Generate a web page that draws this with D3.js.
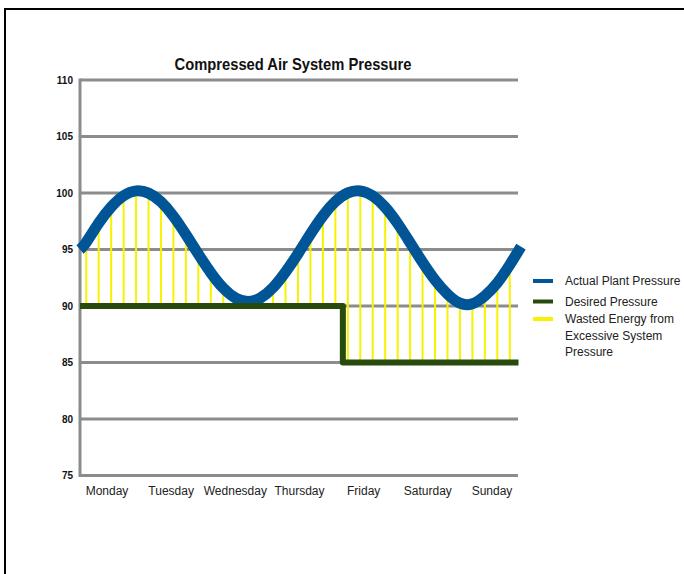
<!DOCTYPE html>
<html>
<head>
<meta charset="utf-8">
<script src="https://cdn.jsdelivr.net/npm/d3@7/dist/d3.min.js"></script>
<style>
  html, body { margin: 0; padding: 0; background: #fff; }
  svg { display: block; }
  text { font-family: "Liberation Sans", Arial, sans-serif; }
</style>
</head>
<body>
<svg id="chart" width="684" height="574"></svg>
<script>
// ---------- data ----------
const title = "Compressed Air System Pressure";
const days = ["Monday", "Tuesday", "Wednesday", "Thursday", "Friday", "Saturday", "Sunday"];
const yTicks = [75, 80, 85, 90, 95, 100, 105, 110];

// sample times (in sample units across the week) and actual plant pressure (psi)
const sampleT = [0, 0.5, 1.5, 2.5, 3.5, 4.5, 5.5, 6.5, 7.5, 8.5, 9.5, 10.5, 11.5, 12.5, 13.5, 14.5,
  15.5, 16.5, 17.5, 18.5, 19.5, 20.5, 21.5, 22.5, 23.5, 24.5, 25.5, 26.5, 27.5, 28.5, 29.5,
  30.5, 31.5, 32.5, 33.5, 34.5, 35.4];
const actualPressure = [95.0, 95.64, 97.33, 98.76, 99.76, 100.19, 99.99, 99.22, 97.95, 96.33, 94.59,
  92.95, 91.59, 90.70, 90.40, 90.72, 91.63, 93.01, 94.63, 96.37, 97.98, 99.24, 100.01, 100.18,
  99.74, 98.74, 97.30, 95.60, 93.87, 92.30, 91.05, 90.25, 90.20, 90.90, 92.05, 93.64, 95.25];

// desired pressure setpoint steps (time, psi)
const desiredT = [0, 21.1, 35.2];
const desiredPressure = [90, 85, 85];

// ---------- layout ----------
const svg = d3.select("#chart");
const x = d3.scaleLinear().domain([0, 35]).range([80, 516]);
const y = d3.scaleLinear().domain([75, 110]).range([475.5, 80]);
const xDays = d3.scalePoint().domain(days).range([107, 492]);

const gridColor = "#8c8c8c";
const blue = "#005596";
const green = "#284a0c";
const yellow = "#f7f200";

// frame
svg.append("rect").attr("x", 5).attr("y", 9).attr("width", 720).attr("height", 620)
  .attr("fill", "none").attr("stroke", "#000").attr("stroke-width", 2);

// title
svg.append("text").attr("x", 293).attr("y", 70).attr("text-anchor", "middle")
  .attr("font-size", 16.5).attr("font-weight", "bold").attr("fill", "#111")
  .attr("textLength", 237).attr("lengthAdjust", "spacingAndGlyphs")
  .text(title);

// gridlines
const xEnd = x.range()[1] + 2;
svg.append("g").selectAll("line").data(yTicks).join("line")
  .attr("x1", x(0)).attr("x2", xEnd)
  .attr("y1", d => y(d)).attr("y2", d => y(d))
  .attr("stroke", gridColor).attr("stroke-width", 3);

// y axis line
svg.append("line").attr("x1", x(0)).attr("x2", x(0))
  .attr("y1", y(110) - 1.5).attr("y2", y(75) + 1.5)
  .attr("stroke", gridColor).attr("stroke-width", 3);

// y tick labels
svg.append("g").selectAll("text").data(yTicks).join("text")
  .attr("x", 73).attr("y", d => y(d) + 3.5).attr("text-anchor", "end")
  .attr("font-size", 10).attr("font-weight", "bold").attr("fill", "#111")
  .text(d => d);

// x labels
svg.append("g").selectAll("text").data(days).join("text")
  .attr("x", d => xDays(d)).attr("y", 494.5).attr("text-anchor", "middle")
  .attr("font-size", 12).attr("fill", "#222")
  .text(d => d);

// desired lookup
function desiredAt(t) {
  let v = desiredPressure[0];
  for (let i = 0; i < desiredT.length; i++) if (t >= desiredT[i]) v = desiredPressure[i];
  return v;
}

// wasted-energy sticks (at each interior sample)
const sticks = sampleT.map((t, i) => ({ t, v: actualPressure[i] }))
  .filter(d => d.t > 0 && d.t < 35);
svg.append("g").selectAll("line").data(sticks).join("line")
  .attr("x1", d => x(d.t)).attr("x2", d => x(d.t))
  .attr("y1", d => y(desiredAt(d.t))).attr("y2", d => y(Math.max(d.v, desiredAt(d.t))))
  .attr("stroke", yellow).attr("stroke-width", 2);

// actual pressure curve
svg.append("path")
  .attr("d", d3.line().curve(d3.curveNatural).x((d, i) => x(sampleT[i])).y(d => y(d))(actualPressure))
  .attr("fill", "none").attr("stroke", blue).attr("stroke-width", 11);

// desired pressure line
const desiredPts = [];
desiredT.forEach((t, i) => {
  if (i > 0) desiredPts.push([t, desiredPressure[i - 1]]);
  desiredPts.push([t, desiredPressure[i]]);
});
svg.append("path")
  .attr("d", d3.line().x(d => x(d[0])).y(d => y(d[1]))(desiredPts))
  .attr("fill", "none").attr("stroke", green).attr("stroke-width", 6)
  .attr("stroke-linejoin", "round");

// legend
const legend = [
  { label: ["Actual Plant Pressure"], color: blue },
  { label: ["Desired Pressure"], color: green },
  { label: ["Wasted Energy from", "Excessive System", "Pressure"], color: yellow }
];
const legY = [281, 301.5, 319];
const lg = svg.append("g");
legend.forEach((d, i) => {
  lg.append("line").attr("x1", 533).attr("x2", 553).attr("y1", legY[i]).attr("y2", legY[i])
    .attr("stroke", d.color).attr("stroke-width", 4);
  d.label.forEach((s, j) => {
    lg.append("text").attr("x", 565).attr("y", legY[i] + 4 + j * 16.5)
      .attr("font-size", 12).attr("fill", "#222").text(s);
  });
});
</script>
</body>
</html>
